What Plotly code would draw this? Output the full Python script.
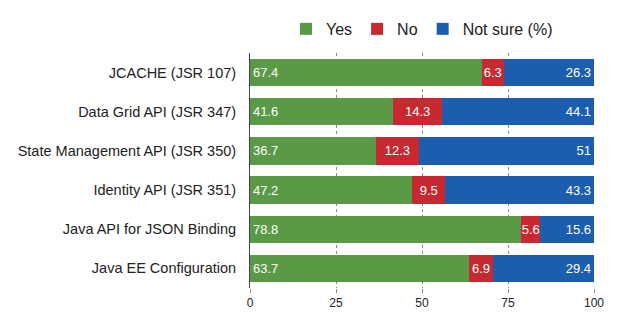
import plotly.graph_objects as go

categories = ["JCACHE (JSR 107)", "Data Grid API (JSR 347)", "State Management API (JSR 350)",
              "Identity API (JSR 351)", "Java API for JSON Binding", "Java EE Configuration"]
yes = [67.4, 41.6, 36.7, 47.2, 78.8, 63.7]
no = [6.3, 14.3, 12.3, 9.5, 5.6, 6.9]
not_sure = [26.3, 44.1, 51, 43.3, 15.6, 29.4]
tick_vals = [0, 25, 50, 75, 100]

series = [("Yes", yes, "#5a9a47", "start"), ("No", no, "#c8282f", "middle"),
          ("Not sure (%)", not_sure, "#1b5daf", "end")]

fig = go.Figure()
for name, vals, color, anchor in series:
    fig.add_trace(go.Bar(
        name=name, y=categories, x=vals, orientation="h",
        marker=dict(color=color, line=dict(width=0)),
        text=[str(v) for v in vals], textposition="inside",
        insidetextanchor=anchor, textangle=0,
        textfont=dict(color="white", size=13, family="Liberation Sans"),
        constraintext="none",
    ))

fig.update_layout(
    barmode="stack", bargap=0.3,
    width=619, height=322,
    margin=dict(l=250, r=25, t=43, b=30),
    paper_bgcolor="white", plot_bgcolor="white",
    font=dict(family="Liberation Sans", color="#222", size=14),
    uniformtext=dict(minsize=8, mode="show"),
    legend=dict(orientation="h", x=0.5, xanchor="center", y=1.03, yanchor="bottom",
                font=dict(size=16, color="#222"), traceorder="normal",
                itemwidth=30),
    showlegend=True,
)
fig.update_xaxes(range=[0, 100], tickvals=tick_vals, showgrid=True, gridcolor="#888",
                 griddash="dot", gridwidth=1, zeroline=False, showline=False,
                 ticks="outside", ticklen=4, tickcolor="#888",
                 tickfont=dict(size=12, color="#222"))
fig.update_yaxes(autorange="reversed", showline=True, linecolor="#444", linewidth=1,
                 ticks="", ticklabelstandoff=10,
                 tickfont=dict(size=14.5, color="#222"))

fig.write_html("out.html")
